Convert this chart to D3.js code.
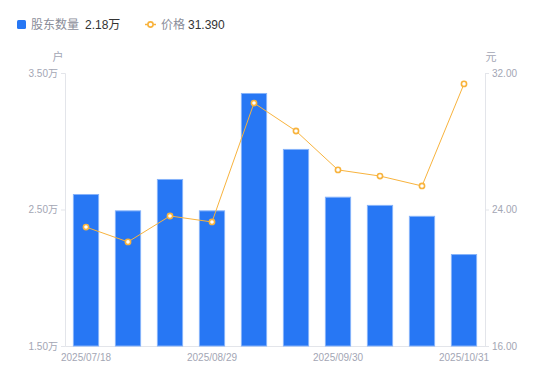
<!DOCTYPE html>
<html>
<head>
<meta charset="utf-8">
<script src="https://cdn.jsdelivr.net/npm/d3@7"></script>
<style>
  body { margin: 0; background: #fff; font-family: "Liberation Sans", Arial, "Noto Sans CJK SC", sans-serif; }
</style>
</head>
<body>
<div id="chart"></div>
<script>
// Data
var dates = ["2025/07/18", "2025/07/31", "2025/08/15", "2025/08/29", "2025/09/10",
             "2025/09/19", "2025/09/30", "2025/10/10", "2025/10/20", "2025/10/31"];
var holders = [2.61, 2.49, 2.72, 2.49, 3.35, 2.94, 2.59, 2.53, 2.45, 2.17]; // 万户
var prices = [22.97, 22.10, 23.62, 23.27, 30.24, 28.60, 26.32, 25.96, 25.38, 31.36];
var leftTicks = [1.5, 2.5, 3.5];
var rightTicks = [16, 24, 32];
var shownDates = ["2025/07/18", "2025/08/29", "2025/09/30", "2025/10/31"];
var legendHolders = "2.18万";
var legendPrice = "31.390";

function drawChart() {
    var svgWidth = 550, svgHeight = 381;
    var margin = { top: 73, right: 65, bottom: 35, left: 65 };
    var width = svgWidth - margin.left - margin.right;
    var height = svgHeight - margin.top - margin.bottom;

    var svg = d3.select("#chart").append("svg")
        .attr("width", svgWidth)
        .attr("height", svgHeight);

    var g = svg.append("g")
        .attr("transform", `translate(${margin.left}, ${margin.top})`);

    var x = d3.scaleBand().domain(dates).range([0, width]).paddingInner(0.4).paddingOuter(0.2);
    var yL = d3.scaleLinear().domain([1.5, 3.5]).range([height, 0]);
    var yR = d3.scaleLinear().domain([16, 32]).range([height, 0]);

    var axisColor = "#e3e5ea";
    var textColor = "#a3a6b4";

    // Left axis
    var left = g.append("g")
        .call(d3.axisLeft(yL).tickValues(leftTicks).tickSize(4).tickPadding(3)
            .tickFormat(d => d3.format(".2f")(d) + "万"));
    // Right axis
    var right = g.append("g")
        .attr("transform", `translate(${width}, 0)`)
        .call(d3.axisRight(yR).tickValues(rightTicks).tickSize(4).tickPadding(3)
            .tickFormat(d3.format(".2f")));
    // Bottom axis
    var bottom = g.append("g")
        .attr("transform", `translate(0, ${height})`)
        .call(d3.axisBottom(x).tickValues(shownDates).tickSize(0).tickPadding(8));

    [left, right, bottom].forEach(function(a) {
        a.select(".domain").attr("stroke", axisColor);
        a.selectAll(".tick line").attr("stroke", axisColor);
        a.selectAll("text").attr("fill", textColor).style("font-size", "10px")
            .style("font-family", "'Liberation Sans', Arial, 'Noto Sans CJK SC', sans-serif");
    });

    // Units
    g.append("text").attr("x", -7).attr("y", -12).attr("text-anchor", "middle")
        .attr("fill", textColor).style("font-size", "11px").text("户");
    g.append("text").attr("x", width + 6).attr("y", -12).attr("text-anchor", "middle")
        .attr("fill", textColor).style("font-size", "11px").text("元");

    // Bars
    g.selectAll(".bar").data(holders).enter().append("rect")
        .attr("x", (d, i) => x(dates[i]))
        .attr("y", d => yL(d))
        .attr("width", x.bandwidth())
        .attr("height", d => height - yL(d))
        .attr("fill", "#2777f4")
        .attr("stroke", "#86b3fa")
        .attr("stroke-width", 1);

    // Price line
    var line = d3.line()
        .x((d, i) => x(dates[i]) + x.bandwidth() / 2)
        .y(d => yR(d));
    g.append("path").datum(prices)
        .attr("d", line)
        .attr("fill", "none")
        .attr("stroke", "#f8b33d")
        .attr("stroke-width", 1);
    g.selectAll(".dot").data(prices).enter().append("circle")
        .attr("cx", (d, i) => x(dates[i]) + x.bandwidth() / 2)
        .attr("cy", d => yR(d))
        .attr("r", 2.6)
        .attr("fill", "#fff")
        .attr("stroke", "#f8b33d")
        .attr("stroke-width", 1.6);

    // Legend
    var lg = svg.append("g").style("font-size", "12px");
    lg.append("rect").attr("x", 17).attr("y", 20).attr("width", 9).attr("height", 9)
        .attr("rx", 1.5).attr("fill", "#2777f4");
    lg.append("text").attr("x", 31).attr("y", 29).attr("fill", "#8a8d99").text("股东数量");
    lg.append("text").attr("x", 85).attr("y", 29).attr("fill", "#333").text(legendHolders);
    lg.append("line").attr("x1", 145).attr("x2", 156).attr("y1", 24.5).attr("y2", 24.5)
        .attr("stroke", "#f8b33d").attr("stroke-width", 1.5);
    lg.append("circle").attr("cx", 150.5).attr("cy", 24.5).attr("r", 2.6)
        .attr("fill", "#fff").attr("stroke", "#f8b33d").attr("stroke-width", 1.6);
    lg.append("text").attr("x", 161).attr("y", 29).attr("fill", "#8a8d99").text("价格");
    lg.append("text").attr("x", 188).attr("y", 29).attr("fill", "#333").text(legendPrice);
}

drawChart();
</script>
</body>
</html>
